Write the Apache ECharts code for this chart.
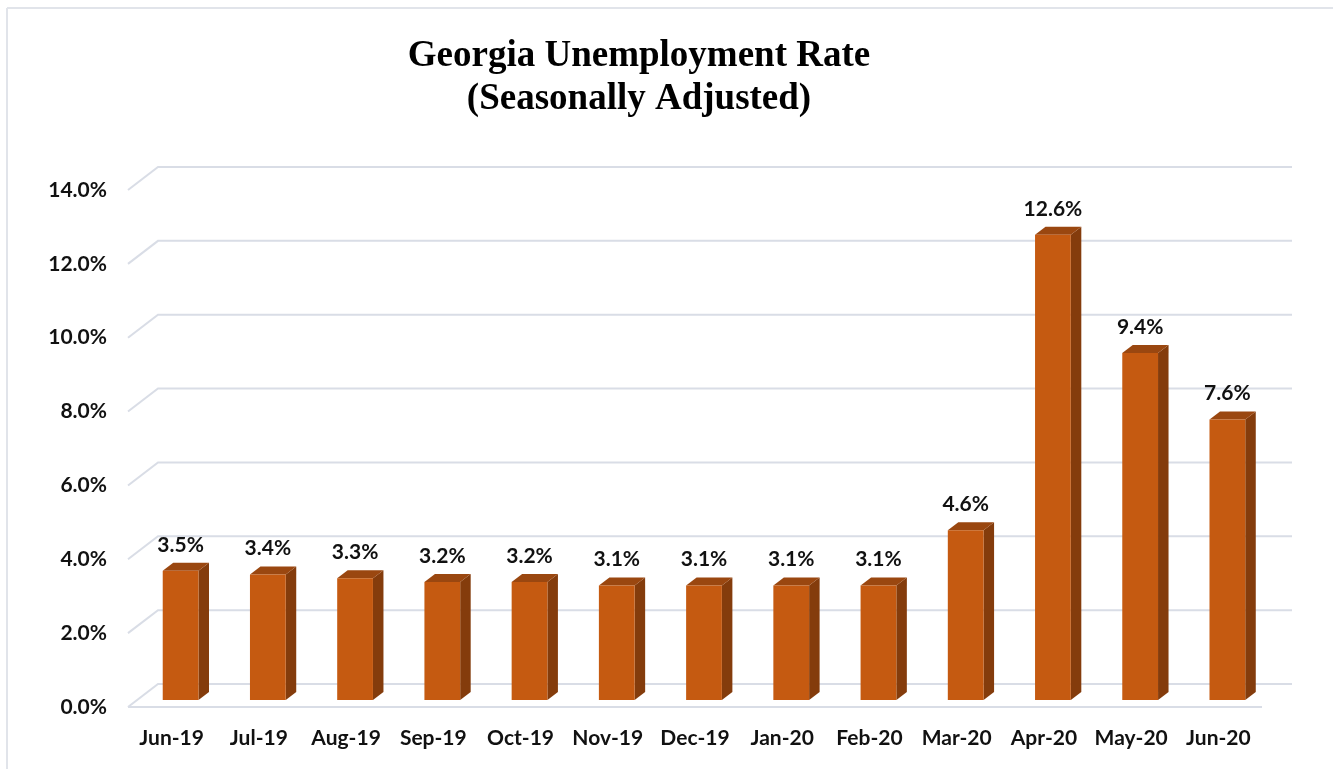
<!DOCTYPE html>
<html>
<head>
<meta charset="utf-8">
<style>
  html, body { margin: 0; padding: 0; background: #ffffff; }
  #chart { width: 1333px; height: 769px; }
</style>
<script src="https://cdn.jsdelivr.net/npm/echarts@6/dist/echarts.min.js"></script>
</head>
<body>
<div id="chart"></div>
<script>
// Monthly Georgia unemployment rate, seasonally adjusted (%)
const months = ['Jun-19', 'Jul-19', 'Aug-19', 'Sep-19', 'Oct-19', 'Nov-19', 'Dec-19',
                'Jan-20', 'Feb-20', 'Mar-20', 'Apr-20', 'May-20', 'Jun-20'];
const rates = [3.5, 3.4, 3.3, 3.2, 3.2, 3.1, 3.1, 3.1, 3.1, 4.6, 12.6, 9.4, 7.6];
const yTicks = [0, 2, 4, 6, 8, 10, 12, 14];

// Oblique "3D" look: the back wall is shifted right and up from the front plane.
const DEPTH_X = 30, DEPTH_Y = 23;
const BAR_FRONT = 0.3, BAR_BACK = 0.65;   // bar depth position (fraction of full depth)
const BAR_RATIO = 0.41;                    // bar width as share of a category band

const FRONT = '#c55a11', SIDE = '#843c0c', TOP = '#9a4710';
const GRID = '#d9dde6';
const FONT = 'Lato, "Open Sans", sans-serif';
const TITLE_FONT = 'bold 37px "Liberation Serif", "Times New Roman", serif';

const chart = echarts.init(document.getElementById('chart'), null, { renderer: 'canvas' });

function renderGridLine(params, api) {
  const cs = params.coordSys;
  const v = api.value(1);
  const y = api.coord([0, v])[1];
  const children = [{
    type: 'polyline',
    shape: { points: [[cs.x, y], [cs.x + DEPTH_X, y - DEPTH_Y], [cs.x + cs.width + DEPTH_X, y - DEPTH_Y]] },
    style: { stroke: GRID, lineWidth: 2, fill: null }
  }];
  if (v === 0) {
    children.push({
      type: 'line',
      shape: { x1: cs.x, y1: y, x2: cs.x + cs.width, y2: y },
      style: { stroke: GRID, lineWidth: 2 }
    });
  }
  return { type: 'group', children: children };
}

function renderBar(params, api) {
  const idx = api.value(0);
  const val = api.value(1);
  const base = api.coord([idx, 0]);
  const topPt = api.coord([idx, val]);
  const band = api.size([1, 0])[0];
  const w = band * BAR_RATIO;
  const fx = DEPTH_X * BAR_FRONT, fy = DEPTH_Y * BAR_FRONT;
  const bx = DEPTH_X * BAR_BACK, by = DEPTH_Y * BAR_BACK;
  const dx = bx - fx, dy = by - fy;
  const xl = base[0] + fx - w / 2, xr = base[0] + fx + w / 2;
  const y0 = base[1] - fy, y1 = topPt[1] - fy;
  return {
    type: 'group',
    children: [
      { type: 'polygon', shape: { points: [[xr, y1], [xr + dx, y1 - dy], [xr + dx, y0 - dy], [xr, y0]] },
        style: { fill: SIDE } },
      { type: 'polygon', shape: { points: [[xl, y1], [xl + dx, y1 - dy], [xr + dx, y1 - dy], [xr, y1]] },
        style: { fill: TOP } },
      { type: 'rect', shape: { x: xl, y: y1, width: w, height: y0 - y1 },
        style: { fill: FRONT } },
      { type: 'text', x: base[0] + fx, y: y1 - 26,
        style: { text: val.toFixed(1) + '%', fill: '#111', font: 'bold 21px ' + FONT,
                 align: 'center', verticalAlign: 'middle' } }
    ]
  };
}

const option = {
  backgroundColor: '#ffffff',
  animation: false,
  graphic: [
    { type: 'line', shape: { x1: 7, y1: 8, x2: 1333, y2: 8 }, style: { stroke: '#e1e4ea', lineWidth: 2 } },
    { type: 'line', shape: { x1: 7, y1: 8, x2: 7, y2: 769 }, style: { stroke: '#e1e4ea', lineWidth: 2 } },
    { type: 'text', x: 639, y: 56,
      style: { text: 'Georgia Unemployment Rate', font: TITLE_FONT,
               fill: '#000', align: 'center', verticalAlign: 'middle' } },
    { type: 'text', x: 639, y: 99,
      style: { text: '(Seasonally Adjusted)', font: TITLE_FONT,
               fill: '#000', align: 'center', verticalAlign: 'middle' } }
  ],
  grid: { left: 128, right: 71, top: 190, bottom: 62 },
  xAxis: {
    type: 'category',
    data: months,
    axisLine: { show: false },
    axisTick: { show: false },
    axisLabel: { interval: 0, margin: 21, color: '#111', fontFamily: FONT, fontWeight: 'bold', fontSize: 21 }
  },
  yAxis: {
    type: 'value',
    min: 0, max: 14, interval: 2,
    axisLine: { show: false },
    axisTick: { show: false },
    splitLine: { show: false },
    axisLabel: { margin: 21, color: '#111', fontFamily: FONT, fontWeight: 'bold', fontSize: 21,
                 formatter: v => v.toFixed(1) + '%' }
  },
  series: [
    { type: 'custom', name: 'grid', z: 1, silent: true,
      data: yTicks.map(v => [0, v]), renderItem: renderGridLine },
    { type: 'custom', name: 'Unemployment rate', z: 2,
      data: rates.map((r, i) => [i, r]), renderItem: renderBar }
  ]
};

chart.setOption(option);
</script>
</body>
</html>
